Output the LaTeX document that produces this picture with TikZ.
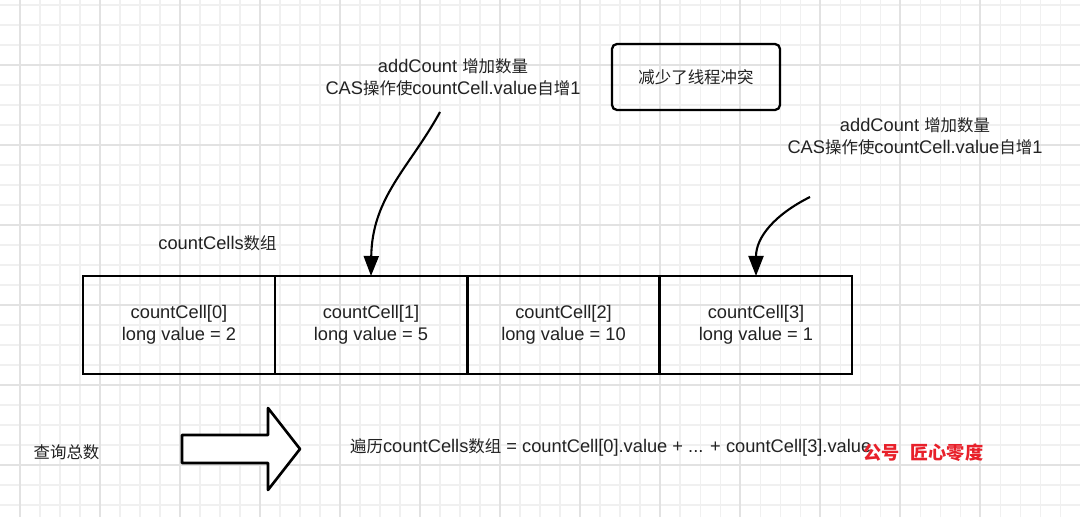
\documentclass[tikz,border=0pt]{standalone}
\usepackage{fontspec}
\setmainfont{Liberation Sans}
\newfontfamily\cjk[Scale=0.9]{Noto Sans CJK SC}
\newcommand{\zh}[1]{{\cjk #1}}
\usepackage{xcolor}
\usetikzlibrary{positioning,calc,arrows.meta}

\definecolor{gridminor}{HTML}{F0F0F0}
\definecolor{gridmajor}{HTML}{E2E2E2}
\definecolor{inkgray}{HTML}{222222}
\definecolor{signred}{HTML}{E8202A}

\tikzset{
    txt/.style={text=inkgray, font=\fontsize{10.4pt}{12.6pt}\selectfont, align=center},
    cell/.style={txt, draw=black, line width=1.3pt, minimum width=3.84cm, minimum height=1.96cm, outer sep=0pt},
    note/.style={txt, draw=black, line width=1.3pt, rounded corners=0.1cm, minimum width=3.36cm, minimum height=1.32cm},
    curvy/.style={line width=1.2pt, -{Triangle[length=0.4cm,width=0.3cm]}}
}

\begin{document}
\begin{tikzpicture}
    \useasboundingbox (0,0) rectangle (21.6,10.34);
    \fill[white] (0,0) rectangle (21.6,10.34);

    % background grid
    \foreach \x in {0.4,0.8,...,21.4} \draw[gridminor, line width=0.6pt] (\x,0) -- (\x,10.34);
    \foreach \y in {0.24,0.64,...,10.3} \draw[gridminor, line width=0.6pt] (0,\y) -- (21.6,\y);
    \foreach \x in {0.4,2.0,...,20.5} \draw[gridmajor, line width=0.7pt] (\x,0) -- (\x,10.34);
    \foreach \y in {1.04,2.64,...,9.1} \draw[gridmajor, line width=0.7pt] (0,\y) -- (21.6,\y);

    % countCells array
    \node[txt] (arr) at (4.35,5.48) {countCells\zh{数组}};
    \node[cell] (c0) at (3.58,3.84)  {countCell[0]\\long value = 2};
    \node[cell] (c1) at (7.42,3.84)  {countCell[1]\\long value = 5};
    \node[cell] (c2) at (11.27,3.84) {countCell[2]\\long value = 10};
    \node[cell] (c3) at (15.12,3.84) {countCell[3]\\long value = 1};

    % addCount notes
    \node[txt] (add1) at (9.06,8.80) {addCount \zh{增加数量}\\CAS\zh{操作使}countCell.value\zh{自增}1};
    \node[txt] (add2) at (18.3,7.62) {addCount \zh{增加数量}\\CAS\zh{操作使}countCell.value\zh{自增}1};
    \node[note] (less) at (13.92,8.80) {\zh{减少了线程冲突}};

    \coordinate (s1) at (8.8,8.1);
    \coordinate (s2) at (16.2,6.4);
    \draw[curvy] (s1) .. controls (8.2,7.0) and (7.44,6.4) .. (c1.north);
    \draw[curvy] (s2) .. controls (15.5,6.05) and (15.12,5.6) .. (c3.north);

    % query total
    \node[txt] (query) at (1.33,1.30) {\zh{查询总数}};
    \draw[line width=1.5pt, line join=round, fill=white]
        (3.64,1.08) -- (3.64,1.64) -- (5.36,1.64) -- (5.36,2.18)
        -- (6.0,1.36) -- (5.36,0.54) -- (5.36,1.08) -- cycle;
    \node[txt, anchor=west] (sum) at (6.88,1.40)
        {\zh{遍历}countCells\zh{数组} = countCell[0].value + ... + countCell[3].value};
    \node[anchor=west, text=signred, font=\fontsize{11.5pt}{13pt}\selectfont\bfseries] (sign) at (17.14,1.28)
        {\zh{公号\hspace{0.6em}匠心零度}};
\end{tikzpicture}
\end{document}
